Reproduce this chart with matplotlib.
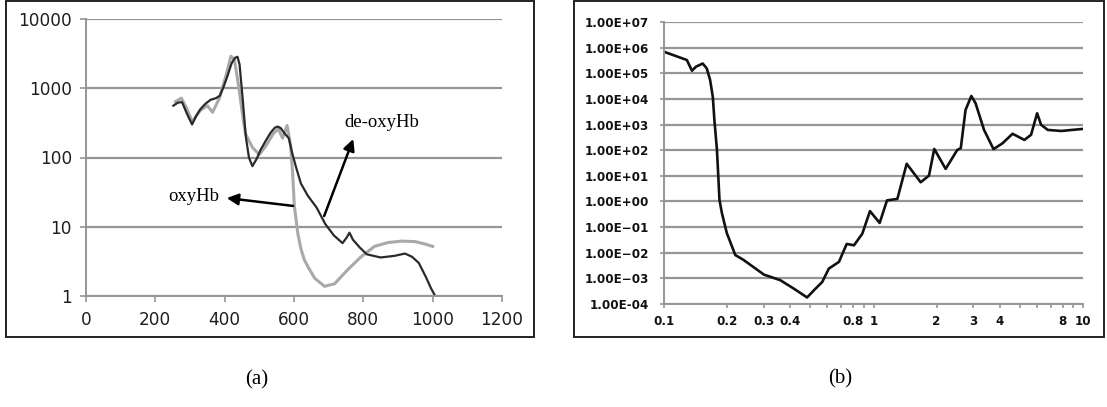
import matplotlib.pyplot as plt
from matplotlib.patches import Rectangle
from matplotlib.ticker import FixedLocator, NullLocator

# panel (a): absorption spectra (wavelength nm vs coefficient)
deoxy_wl = [252, 265, 277, 292, 306, 318, 330, 345, 359, 375, 386, 397, 408, 420,
            430, 437, 443, 452, 461, 470, 480, 492, 504, 520, 533, 545, 553, 562,
            572, 585, 596, 605, 620, 640, 665, 690, 715, 740, 752, 760, 770, 790,
            810, 850, 890, 920, 940, 960, 980, 995, 1005]
deoxy_val = [560, 620, 630, 420, 300, 400, 500, 600, 680, 720, 780, 1050, 1500, 2300,
             2750, 2850, 2200, 700, 200, 100, 75, 95, 130, 180, 230, 270, 280, 265,
             225, 190, 110, 75, 42, 28, 19, 11, 7.5, 5.8, 7, 8.2, 6.5, 5,
             4, 3.6, 3.8, 4.1, 3.7, 3.0, 1.9, 1.3, 1.05]

oxy_wl = [258, 275, 290, 306, 330, 350, 365, 385, 405, 418, 428, 440, 452, 460,
          480, 500, 520, 540, 555, 567, 580, 590, 596, 601, 611, 620, 630, 645,
          660, 688, 717, 755, 794, 832, 870, 910, 949, 980, 1000]
oxy_val = [640, 720, 520, 330, 480, 560, 450, 720, 1600, 2900, 2600, 1100, 400, 220,
           140, 110, 150, 220, 260, 190, 290, 150, 60, 20, 8, 4.8, 3.3, 2.4,
           1.8, 1.38, 1.5, 2.4, 3.7, 5.2, 5.9, 6.2, 6.1, 5.6, 5.2]

a_xticks = [0, 200, 400, 600, 800, 1000, 1200]
a_yticks = [1, 10, 100, 1000, 10000]

# panel (b): wide-range spectrum (log x vs log y)
b_x = [0.1, 0.1285, 0.136, 0.142, 0.153, 0.16, 0.166, 0.171, 0.174, 0.179, 0.184,
       0.189, 0.1995, 0.219, 0.24, 0.3, 0.359, 0.416, 0.482, 0.519, 0.569, 0.612,
       0.684, 0.745, 0.807, 0.884, 0.962, 1.07, 1.16, 1.30, 1.44, 1.68, 1.84,
       1.95, 2.21, 2.51, 2.61, 2.75, 2.93, 3.07, 3.37, 3.74, 4.13, 4.61, 5.25,
       5.65, 6.04, 6.31, 6.79, 7.87, 10.0]
b_y = [6.9e5, 3.3e5, 1.26e5, 1.8e5, 2.4e5, 1.55e5, 5.5e4, 1.2e4, 1.5e3, 1.0e2, 1.15,
       0.35, 5.8e-2, 8.1e-3, 5.2e-3, 1.4e-3, 8.5e-4, 4.0e-4, 1.8e-4, 3.4e-4, 7.2e-4,
       2.4e-3, 4.4e-3, 2.2e-2, 1.95e-2, 5.5e-2, 0.42, 0.145, 1.1, 1.26, 29.5, 5.6,
       10.2, 112, 18.6, 102, 120, 3.7e3, 1.3e4, 6.8e3, 617, 110, 186, 437, 251,
       398, 2.75e3, 977, 617, 562, 676]
b_xticks = [0.1, 0.2, 0.3, 0.4, 0.5, 0.6, 0.7, 0.8, 0.9, 1, 2, 3, 4, 5, 6, 7, 8, 9, 10]
b_xlabels = ["0.1", "0.2", "0.3", "0.4", "", "", "", "0.8", "", "1", "2", "3", "4",
             "", "", "", "8", "", "10"]
b_yticks = [1e-4, 1e-3, 1e-2, 1e-1, 1e0, 1e1, 1e2, 1e3, 1e4, 1e5, 1e6, 1e7]
b_ylabels = ["1.00E-04", "1.00E\u221203", "1.00E\u221202", "1.00E\u221201",
             "1.00E+00", "1.00E+01", "1.00E+02", "1.00E+03", "1.00E+04",
             "1.00E+05", "1.00E+06", "1.00E+07"]

W, H = 1107, 407
grid_color = "#959595"

fig = plt.figure(figsize=(W / 100, H / 100), dpi=100)


def fx(px):
    return px / W


def fy(py):
    return 1 - py / H


# panel frames
for x0, x1 in [(6, 534), (574, 1104)]:
    fig.add_artist(Rectangle((fx(x0), fy(337)), fx(x1 - x0), 336 / H,
                             transform=fig.transFigure, fill=False,
                             edgecolor="#222222", linewidth=1.4))

# ---- panel (a)
ax1 = fig.add_axes([fx(86), fy(296), fx(502 - 86), (296 - 19) / H])
ax1.set_yscale("log")
ax1.set_xlim(0, 1200)
ax1.set_ylim(1, 10000)
ax1.plot(oxy_wl, oxy_val, color="#a9a9a9", linewidth=2.2, solid_joinstyle="round")
ax1.plot(deoxy_wl, deoxy_val, color="#2a2a2a", linewidth=1.6, solid_joinstyle="round")
ax1.xaxis.set_major_locator(FixedLocator(a_xticks))
ax1.yaxis.set_major_locator(FixedLocator(a_yticks))
ax1.yaxis.set_minor_locator(NullLocator())
ax1.set_yticklabels([str(v) for v in a_yticks])
ax1.grid(axis="y", color=grid_color, linewidth=1.6)
for side in ["top", "right"]:
    ax1.spines[side].set_visible(False)
for side in ["left", "bottom"]:
    ax1.spines[side].set_color(grid_color)
    ax1.spines[side].set_linewidth(1.4)
ax1.tick_params(colors=grid_color, labelcolor="#1e1e1e", length=4, width=1.2,
                labelsize=12.2, direction="out")
ax1.tick_params(axis="x", pad=7)
ax1.tick_params(axis="y", pad=6)
for lab in ax1.get_xticklabels() + ax1.get_yticklabels():
    lab.set_family("DejaVu Sans")

serif = ["Liberation Serif", "DejaVu Serif"]
ax1.text(312, 27, "oxyHb", fontsize=13.5, family=serif, ha="center", va="center")
ax1.annotate("", xy=(406, 26), xytext=(597, 20),
             arrowprops=dict(arrowstyle="-|>", color="black", lw=1.8,
                             mutation_scale=17, shrinkA=0, shrinkB=0))
ax1.text(852, 325, "de-oxyHb", fontsize=13.5, family=serif, ha="center", va="center")
ax1.annotate("", xy=(771, 185), xytext=(687, 14.3),
             arrowprops=dict(arrowstyle="-|>", color="black", lw=1.8,
                             mutation_scale=17, shrinkA=0, shrinkB=0))

# ---- panel (b)
ax2 = fig.add_axes([fx(664), fy(304), fx(1083 - 664), (304 - 22) / H])
ax2.set_xscale("log")
ax2.set_yscale("log")
ax2.set_xlim(0.1, 10)
ax2.set_ylim(1e-4, 1e7)
ax2.plot(b_x, b_y, color="#111111", linewidth=1.9, solid_joinstyle="round")
ax2.xaxis.set_major_locator(FixedLocator(b_xticks))
ax2.xaxis.set_minor_locator(NullLocator())
ax2.set_xticklabels(b_xlabels)
ax2.yaxis.set_major_locator(FixedLocator(b_yticks))
ax2.yaxis.set_minor_locator(NullLocator())
ax2.set_yticklabels(b_ylabels)
ax2.grid(axis="y", color=grid_color, linewidth=1.6)
for side in ["top", "right"]:
    ax2.spines[side].set_visible(False)
for side in ["left", "bottom"]:
    ax2.spines[side].set_color(grid_color)
    ax2.spines[side].set_linewidth(1.4)
ax2.tick_params(colors=grid_color, labelcolor="#111111", length=3, width=1.2,
                labelsize=8.6, direction="out")
ax2.tick_params(axis="x", pad=5)
ax2.tick_params(axis="y", pad=8)
for lab in ax2.get_xticklabels() + ax2.get_yticklabels():
    lab.set_family("DejaVu Sans")
    lab.set_fontweight("bold")

# captions
fig.text(fx(257), fy(380), "(a)", fontsize=15, family=serif, ha="center", va="center")
fig.text(fx(840), fy(379), "(b)", fontsize=15, family=serif, ha="center", va="center")

fig.savefig("out.png", dpi=100)
